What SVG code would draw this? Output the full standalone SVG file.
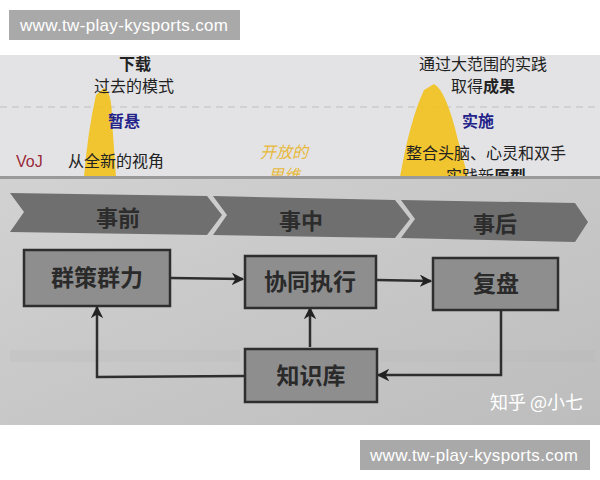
<svg xmlns="http://www.w3.org/2000/svg" width="600" height="480" viewBox="0 0 600 480">
<defs>
<style>
.wm{fill:#a9a9a9}
.wmt{font-family:"Liberation Sans",Arial,sans-serif;font-size:17px;fill:#fff}
.cn{font-family:"Noto Sans CJK SC","Noto Sans",sans-serif;fill:#222;font-size:16px}
.box{fill:#8e8e8e;stroke:#2e2e2e;stroke-width:2.5}
.bt{font-family:"Noto Sans CJK SC",serif;font-size:23px;font-weight:bold;fill:#2a2a2a;text-anchor:middle}
.chev{fill:#6f6f6f}
.ct{font-family:"Noto Sans CJK SC",serif;font-size:22px;font-weight:bold;fill:#2c2c2c;text-anchor:middle}
.ln{fill:none;stroke:#2e2e2e;stroke-width:2.5}
</style>
<marker id="ah" viewBox="0 0 10 10" refX="9" refY="5" markerWidth="5" markerHeight="5" orient="auto">
<path d="M0,0 L10,5 L0,10 L3,5 z" fill="#222"/>
</marker>
<linearGradient id="bg" x1="0" y1="0" x2="1" y2="1">
<stop offset="0" stop-color="#d2d2d2"/>
<stop offset="1" stop-color="#bdbdbd"/>
</linearGradient>
<clipPath id="topclip"><rect x="0" y="55" width="600" height="121"/></clipPath>
</defs>
<rect width="600" height="480" fill="#fff"/>
<g id="top-photo" clip-path="url(#topclip)">
<rect x="0" y="55" width="600" height="122" fill="#e3e3e5"/>
<line x1="0" y1="107" x2="600" y2="107" stroke="#c0c0c0" stroke-width="1.2" stroke-dasharray="7,5"/>
<path d="M104,88 Q112,92 112,120 L116,177 L84,177 Q88,130 96,95 Z" fill="#f2c11c" opacity="0.9"/>
<path d="M434,84 Q446,90 458,140 L468,177 L400,177 Q410,120 424,90 Z" fill="#f2c11c" opacity="0.9"/>
<text class="cn" x="135" y="70" font-weight="bold" text-anchor="middle">下载</text>
<text class="cn" x="134" y="92" text-anchor="middle">过去的模式</text>
<text class="cn" x="124" y="127" font-weight="bold" text-anchor="middle" style="fill:#23238a">暂悬</text>
<text x="16" y="167" font-family="Liberation Sans,sans-serif" font-size="16" fill="#9a2a3a">VoJ</text>
<text class="cn" x="116" y="167" text-anchor="middle">从全新的视角</text>
<text class="cn" x="284" y="158" font-style="italic" text-anchor="middle" style="fill:#e8b93a">开放的</text>
<text class="cn" x="284" y="181" font-style="italic" text-anchor="middle" style="fill:#e8b93a">思维</text>
<text class="cn" x="483" y="70" text-anchor="middle">通过大范围的实践</text>
<text class="cn" x="483" y="92" text-anchor="middle">取得<tspan font-weight="bold">成果</tspan></text>
<text class="cn" x="478" y="127" font-weight="bold" text-anchor="middle" style="fill:#23238a">实施</text>
<text class="cn" x="486" y="159" text-anchor="middle">整合头脑、心灵和双手</text>
<text class="cn" x="486" y="182" text-anchor="middle">实践新<tspan font-weight="bold">原型</tspan></text>
</g>
<g id="bottom-photo">
<rect x="0" y="176" width="600" height="249" fill="url(#bg)"/>
<rect x="0" y="176" width="600" height="3" fill="#9a9a9a"/>
<g fill="#b3b3b3" opacity="0.2">
<rect x="10" y="350" width="230" height="12"/>
<rect x="380" y="350" width="215" height="12"/>
</g>
</g>
<g id="chevrons">
<path class="chev" d="M10,193 L207,196 L222,215 L207,235 L10,232 L24,212 Z"/>
<path class="chev" d="M213,196 L395,200 L410,219 L395,238 L213,235 L227,215 Z"/>
<path class="chev" d="M401,200 L575,203 L588,222 L575,242 L401,238 L415,219 Z"/>
<text class="ct" x="118" y="226">事前</text>
<text class="ct" x="301" y="229">事中</text>
<text class="ct" x="495" y="232">事后</text>
</g>
<g id="connectors">
<line class="ln" x1="171" y1="278" x2="243" y2="279" marker-end="url(#ah)"/>
<line class="ln" x1="377" y1="280" x2="431" y2="281" marker-end="url(#ah)"/>
<polyline class="ln" points="501,311 501,375 378,375" marker-end="url(#ah)"/>
<polyline class="ln" points="244,376 97,377 97,307" marker-end="url(#ah)"/>
<line class="ln" x1="310" y1="347" x2="310" y2="308" marker-end="url(#ah)"/>
</g>
<g id="node-qunce"><rect class="box" x="24" y="250" width="146" height="56"/><text class="bt" x="97" y="286">群策群力</text></g>
<g id="node-xietong"><rect class="box" x="245" y="256" width="131" height="52"/><text class="bt" x="310" y="290">协同执行</text></g>
<g id="node-fupan"><rect class="box" x="433" y="258" width="125" height="52"/><text class="bt" x="496" y="292">复盘</text></g>
<g id="node-zhishiku"><rect class="box" x="245" y="349" width="132" height="53"/><text class="bt" x="311" y="384">知识库</text></g>
<text x="490" y="409" font-family="Noto Sans CJK SC,sans-serif" font-size="18" fill="#fff">知乎 @小七</text>
<g id="watermarks">
<rect class="wm" x="9" y="10" width="231" height="30"/>
<text class="wmt" x="20" y="31" textLength="208">www.tw-play-kysports.com</text>
<rect class="wm" x="360" y="440" width="230" height="30"/>
<text class="wmt" x="370" y="461" textLength="208">www.tw-play-kysports.com</text>
</g>
</svg>
